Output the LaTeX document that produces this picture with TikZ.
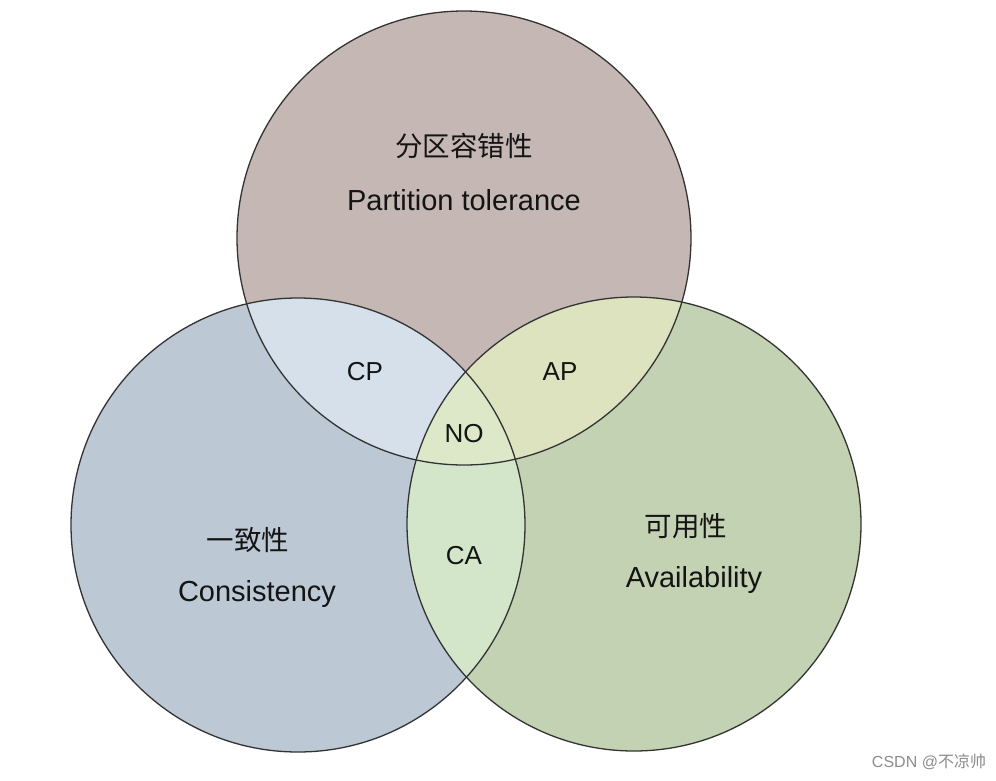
\documentclass[tikz,border=0pt]{standalone}
\usepackage{fontspec}
\setmainfont{Liberation Sans}
\newfontfamily\cjk{Noto Sans CJK SC}
\definecolor{partcolor}{HTML}{C4B7B4}
\definecolor{conscolor}{HTML}{BCC9D5}
\definecolor{availcolor}{HTML}{C3D2B2}
\definecolor{cpcolor}{HTML}{D5E0EB}
\definecolor{apcolor}{HTML}{DDE3BF}
\definecolor{cacolor}{HTML}{D4E6C9}
\definecolor{nocolor}{HTML}{DCE8C8}
\definecolor{ringcolor}{HTML}{333333}

\begin{document}
\begin{tikzpicture}[x=1pt,y=-1pt,
  ring/.style={
    draw=ringcolor,
    line width=1.3pt
  },
  cntitle/.style={
    text=black!92,
    font=\cjk\fontsize{27.5}{30}\selectfont
  },
  entitle/.style={
    text=black!92,
    font=\fontsize{29}{32}\selectfont
  },
  overlap/.style={
    text=black!92,
    font=\fontsize{26}{30}\selectfont
  }
  ]
  \useasboundingbox (0,0) rectangle (996,780);
  \fill[white] (0,0) rectangle (996,780);

  % circle centres
  \coordinate (p) at (464,238);
  \coordinate (c) at (298,525);
  \coordinate (a) at (634,524);
  \def\rad{227pt}

  \fill[partcolor] (p) circle (\rad);
  \fill[conscolor] (c) circle (\rad);
  \fill[availcolor] (a) circle (\rad);

  % overlaps
  \begin{scope}
    \clip (p) circle (\rad);
    \fill[cpcolor] (c) circle (\rad);
    \fill[apcolor] (a) circle (\rad);
  \end{scope}
  \begin{scope}
    \clip (c) circle (\rad);
    \fill[cacolor] (a) circle (\rad);
  \end{scope}
  \begin{scope}
    \clip (p) circle (\rad);
    \clip (c) circle (\rad);
    \fill[nocolor] (a) circle (\rad);
  \end{scope}

  \draw[ring] (p) circle (\rad);
  \draw[ring] (c) circle (\rad);
  \draw[ring] (a) circle (\rad);

  % labels
  \node[cntitle] (ptitle) at (464,146) {分区容错性};
  \node[entitle] (pname) at (464,200) {Partition tolerance};
  \node[cntitle] (ctitle) at (248,540) {一致性};
  \node[entitle] (cname) at (257,594) {Consistency};
  \node[cntitle] (atitle) at (686,526) {可用性};
  \node[entitle] (aname) at (694,580) {Availability};

  \node[overlap] (cp) at (365,372) {CP};
  \node[overlap] (ap) at (560,372) {AP};
  \node[overlap] (no) at (464,434) {NO};
  \node[overlap] (ca) at (464,556) {CA};

  \node[text=black!45, font=\fontsize{16}{18}\selectfont] (mark) at (929,762) {CSDN @{\cjk 不凉帅}};
\end{tikzpicture}
\end{document}
